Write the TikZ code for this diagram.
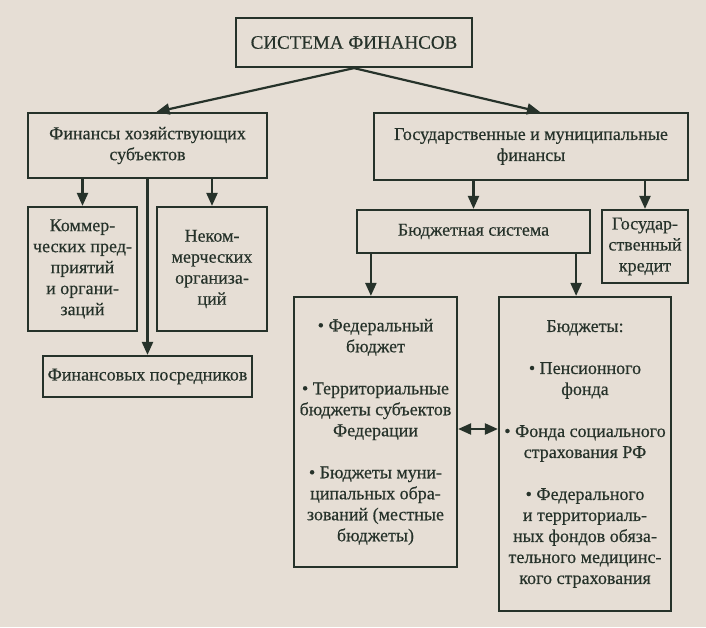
\documentclass[tikz,border=0pt]{standalone}
\usepackage{fontspec}
\setmainfont{Liberation Serif}[FakeBold=0.4]
\usetikzlibrary{arrows.meta}
\definecolor{paper}{RGB}{230,222,213}
\definecolor{ink}{RGB}{38,50,42}
\tikzset{
  box/.style={draw=ink, line width=2.2pt, text=ink, align=center, inner sep=0pt},
  arr/.style={draw=ink, line width=2.2pt, -{Triangle[length=13pt,width=11pt]}},
  dblarr/.style={draw=ink, line width=2.2pt, {Triangle[length=13pt,width=11pt]}-{Triangle[length=13pt,width=11pt]}},
}
\begin{document}
\begin{tikzpicture}[font=\fontsize{18}{21}\selectfont, x=1pt, y=-1pt]

\fill[paper] (0,0) rectangle (706,627);
\useasboundingbox (0,0) rectangle (706,627);

\node[box, minimum width=236, minimum height=49, font=\fontsize{19}{23}\selectfont] (sys) at (354,42.5) {СИСТЕМА ФИНАНСОВ};

\node[box, minimum width=239, minimum height=65] (fhs) at (147.5,145.5) {Финансы хозяйствующих\\субъектов};
\node[box, minimum width=314, minimum height=67] (gmf) at (531,146.5) {Государственные и муниципальные\\финансы};

\node[box, minimum width=109, minimum height=124] (kom) at (82.5,269) {Коммер-\\ческих пред-\\приятий\\и органи-\\заций};
\node[box, minimum width=110, minimum height=124] (nekom) at (212,269) {Неком-\\мерческих\\организа-\\ций};
\node[box, minimum width=209, minimum height=41] (posr) at (147.5,376.5) {Финансовых посредников};

\node[box, minimum width=233, minimum height=43] (bs) at (473.5,231.5) {Бюджетная система};
\node[box, minimum width=86, minimum height=73] (kred) at (645,246.5) {Государ-\\ственный\\кредит};

\node[box, minimum width=163, minimum height=270] (lb) at (375.5,432) {• Федеральный\\бюджет\\[21pt]• Территориальные\\бюджеты субъектов\\Федерации\\[21pt]• Бюджеты муни-\\ципальных обра-\\зований (местные\\бюджеты)};
\node[box, minimum width=172, minimum height=314] (rb) at (585,454) {Бюджеты:\\[21pt]• Пенсионного\\фонда\\[21pt]• Фонда социального\\страхования РФ\\[21pt]• Федерального\\и территориаль-\\ных фондов обяза-\\тельного медицинс-\\кого страхования};

\draw[arr] (sys.south) -- ([xshift=9pt]fhs.north);
\draw[arr] (sys.south) -- ([xshift=9pt]gmf.north);

\draw[arr] (kom.north |- fhs.south) -- (kom.north);
\draw[arr] (nekom.north |- fhs.south) -- (nekom.north);
\draw[arr] (fhs.south) -- (posr.north);

\draw[arr] (bs.north |- gmf.south) -- (bs.north);
\draw[arr] (kred.north |- gmf.south) -- (kred.north);

\coordinate (bsL) at ([xshift=15pt]bs.south west);
\coordinate (bsR) at ([xshift=-15pt]bs.south east);
\draw[arr] (bsL) -- (bsL |- lb.north);
\draw[arr] (bsR) -- (bsR |- rb.north);

\draw[dblarr] ([yshift=3pt]lb.east) -- ([yshift=3pt]lb.east -| rb.west);

\end{tikzpicture}
\end{document}
